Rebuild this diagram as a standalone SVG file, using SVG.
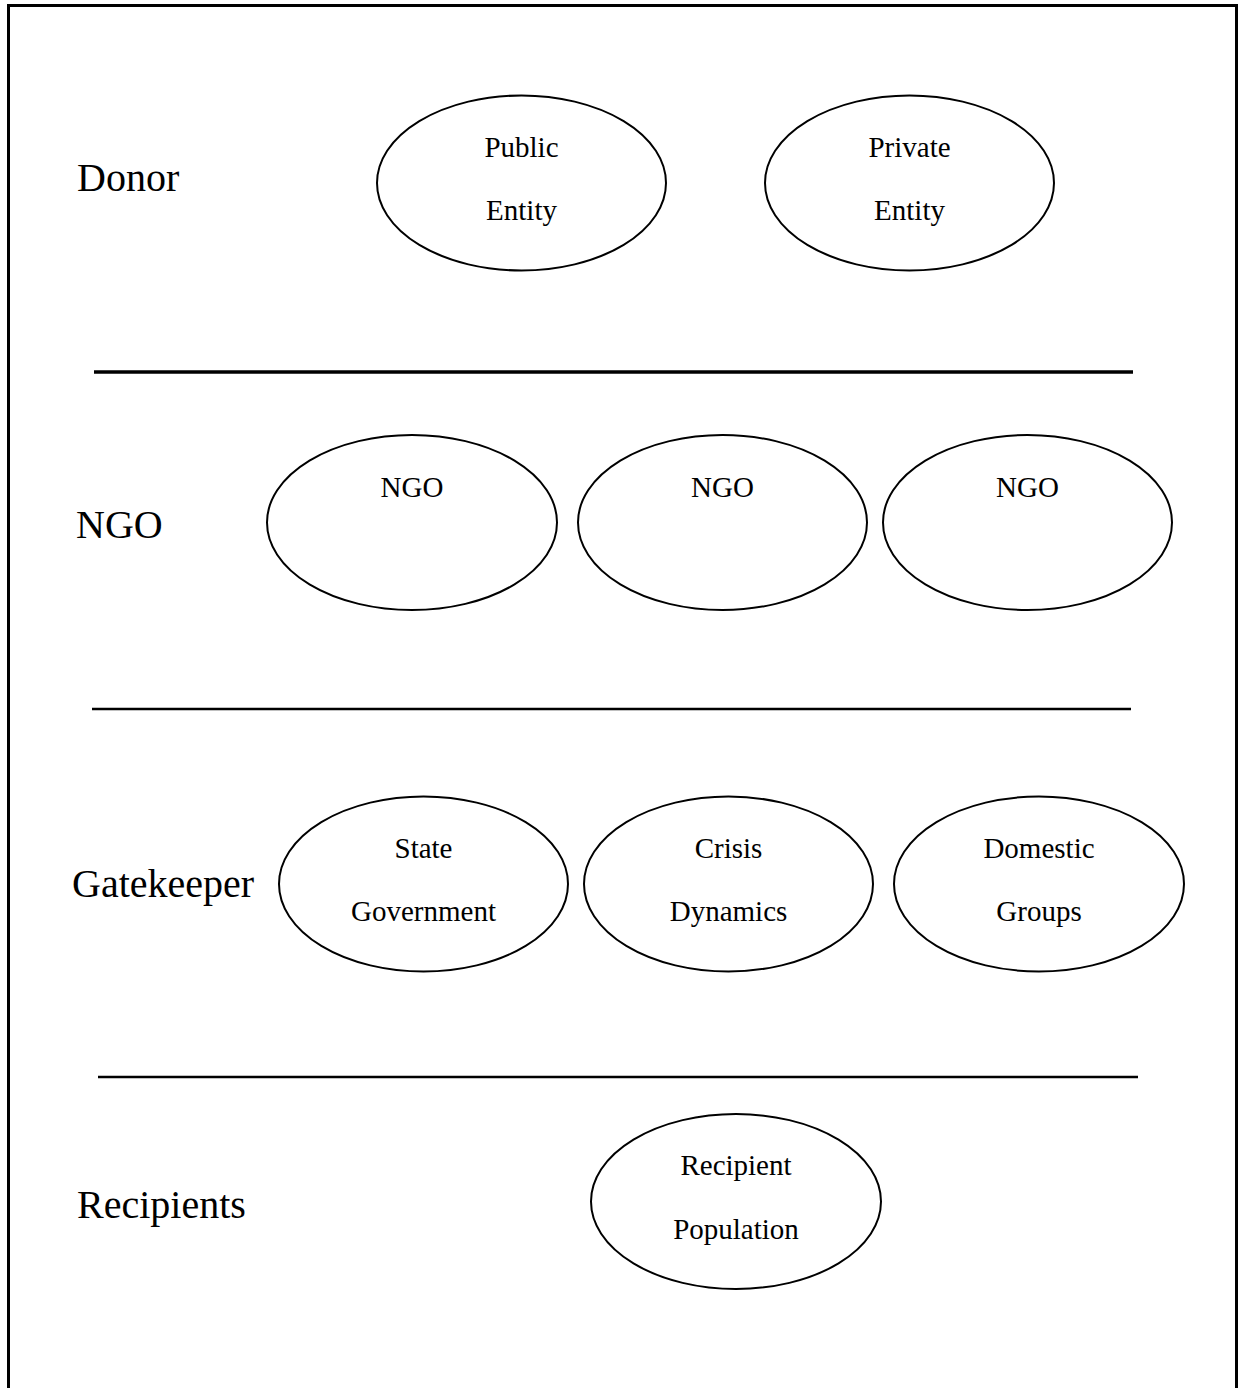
<svg xmlns="http://www.w3.org/2000/svg" width="1243" height="1388" viewBox="0 0 1243 1388">
<style>
.bg{fill:#fff}
.frame{fill:none;stroke:#000;stroke-width:3}
.sep{stroke:#000;stroke-width:2.5;fill:none}
.node ellipse{fill:#fff;stroke:#000;stroke-width:2}
.lbl{font-family:"Liberation Serif","Times New Roman",serif;font-size:40px;fill:#000}
.nt{font-family:"Liberation Serif","Times New Roman",serif;font-size:29px;fill:#000;text-anchor:middle}
</style>
<rect class="bg" x="0" y="0" width="1243" height="1388"/>
<rect class="frame" x="8.5" y="5.5" width="1228" height="1400"/>
<g id="separators">
<line class="sep" x1="94" y1="372" x2="1133" y2="372" style="stroke-width:3.5"/>
<line class="sep" x1="92" y1="709" x2="1131" y2="709"/>
<line class="sep" x1="98" y1="1077" x2="1138" y2="1077"/>
</g>
<g id="row-labels">
<text class="lbl" x="77" y="191">Donor</text>
<text class="lbl" x="76" y="538">NGO</text>
<text class="lbl" x="72" y="897">Gatekeeper</text>
<text class="lbl" x="77" y="1218">Recipients</text>
</g>
<g id="connectors"></g>
<g id="public-entity" class="node">
<ellipse cx="521.5" cy="183" rx="144.5" ry="87.5"/>
<text class="nt" x="521.5" y="157">Public</text>
<text class="nt" x="521.5" y="220">Entity</text>
</g>
<g id="private-entity" class="node">
<ellipse cx="909.5" cy="183" rx="144.5" ry="87.5"/>
<text class="nt" x="909.5" y="157">Private</text>
<text class="nt" x="909.5" y="220">Entity</text>
</g>
<g id="ngo-1" class="node">
<ellipse cx="412" cy="522.5" rx="145" ry="87.5"/>
<text class="nt" x="412" y="497">NGO</text>
</g>
<g id="ngo-2" class="node">
<ellipse cx="722.5" cy="522.5" rx="144.5" ry="87.5"/>
<text class="nt" x="722.5" y="497">NGO</text>
</g>
<g id="ngo-3" class="node">
<ellipse cx="1027.5" cy="522.5" rx="144.5" ry="87.5"/>
<text class="nt" x="1027.5" y="497">NGO</text>
</g>
<g id="state-government" class="node">
<ellipse cx="423.5" cy="884" rx="144.5" ry="87.5"/>
<text class="nt" x="423.5" y="858">State</text>
<text class="nt" x="423.5" y="921">Government</text>
</g>
<g id="crisis-dynamics" class="node">
<ellipse cx="728.5" cy="884" rx="144.5" ry="87.5"/>
<text class="nt" x="728.5" y="858">Crisis</text>
<text class="nt" x="728.5" y="921">Dynamics</text>
</g>
<g id="domestic-groups" class="node">
<ellipse cx="1039" cy="884" rx="145" ry="87.5"/>
<text class="nt" x="1039" y="858">Domestic</text>
<text class="nt" x="1039" y="921">Groups</text>
</g>
<g id="recipient-population" class="node">
<ellipse cx="736" cy="1201.5" rx="145" ry="87.5"/>
<text class="nt" x="736" y="1175">Recipient</text>
<text class="nt" x="736" y="1239">Population</text>
</g>
</svg>
